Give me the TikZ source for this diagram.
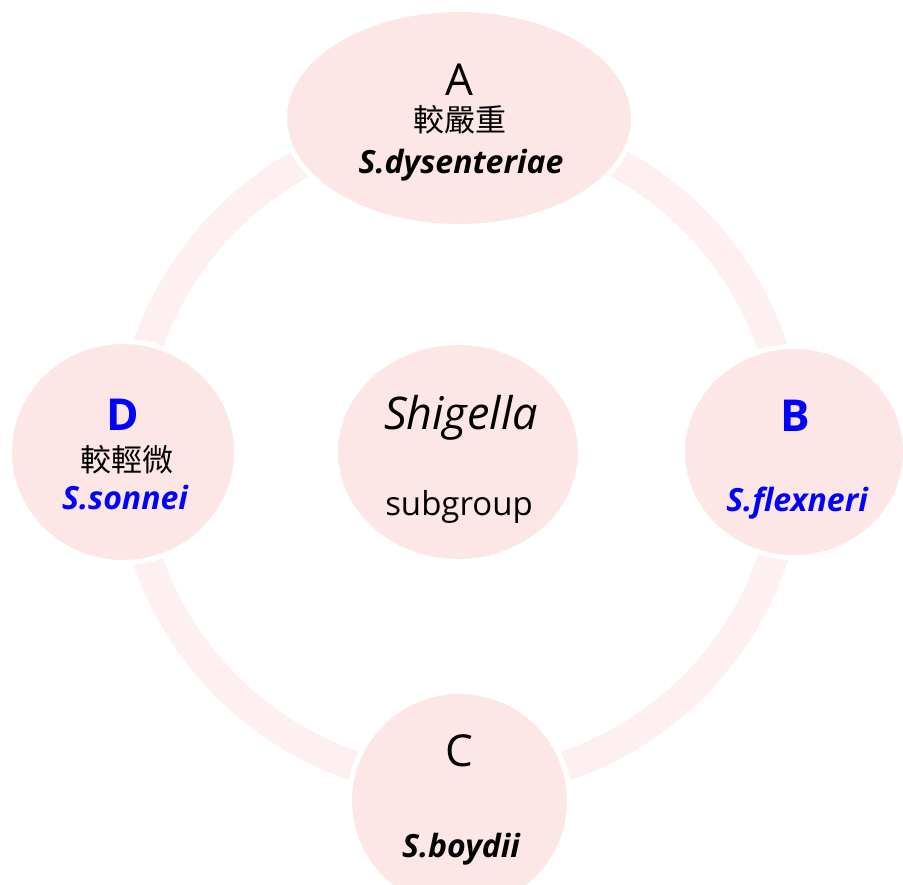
\documentclass[tikz,border=0pt]{standalone}
\usepackage{fontspec}
\setmainfont{Open Sans}
\newfontfamily\cjk{Noto Sans CJK TC}
\usetikzlibrary{shapes.geometric}

\definecolor{bubblepink}{HTML}{FDE6E6}
\definecolor{ringpink}{HTML}{FEF0F0}
\definecolor{typeblue}{HTML}{0000FF}

\tikzset{
    bubble/.style={ellipse, fill=bubblepink, draw=white, line width=2.5pt, inner sep=0pt},
    ring/.style={draw=ringpink, line width=15pt},
    grouptag/.style={anchor=base, font=\fontsize{22}{26}\selectfont},
    severity/.style={font=\cjk\fontsize{15.5}{18}\selectfont},
    species/.style={anchor=base, font=\bfseries\itshape\fontsize{16}{19}\selectfont}
}

\begin{document}
\begin{tikzpicture}[x=0.5pt, y=-0.5pt]
    \useasboundingbox (0,0) rectangle (903,884);

    % the cycle behind the subgroups
    \coordinate (mid) at (460,453);
    \draw[ring] (mid) circle[radius=165pt];

    % subgroups
    \node[bubble, minimum width=174.5pt, minimum height=108.5pt] (A) at (459,118) {};
    \node[bubble, minimum width=111.5pt, minimum height=105.5pt] (B) at (794,452) {};
    \node[bubble, minimum width=110pt, minimum height=109.5pt] (C) at (459.5,801) {};
    \node[bubble, minimum width=113.5pt, minimum height=110.5pt] (D) at (123,452) {};
    \node[bubble, minimum width=122.5pt, minimum height=109.5pt] (hub) at (458,452) {};

    % labels of A
    \node[grouptag] (Atag) at (459,95) {A};
    \node[severity] (Asev) at (460,120) {較嚴重};
    \node[species] (Aname) at (461,173) {S.dysenteriae};

    % labels of B
    \node[grouptag, font=\bfseries\fontsize{22}{26}\selectfont, text=typeblue] (Btag) at (795,431) {B};
    \node[species, text=typeblue] (Bname) at (797,511) {S.flexneri};

    % labels of C
    \node[grouptag] (Ctag) at (459,766) {C};
    \node[species] (Cname) at (461,857) {S.boydii};

    % labels of D
    \node[grouptag, font=\bfseries\fontsize{22}{26}\selectfont, text=typeblue] (Dtag) at (123,430) {D};
    \node[severity] (Dsev) at (127,460) {較輕微};
    \node[species, text=typeblue] (Dname) at (125,509) {S.sonnei};

    % centre
    \node[anchor=base, font=\itshape\fontsize{22.5}{27}\selectfont] (genus) at (461,429) {Shigella};
    \node[anchor=base, font=\fontsize{16.5}{20}\selectfont] (sub) at (459,515) {subgroup};
\end{tikzpicture}
\end{document}
